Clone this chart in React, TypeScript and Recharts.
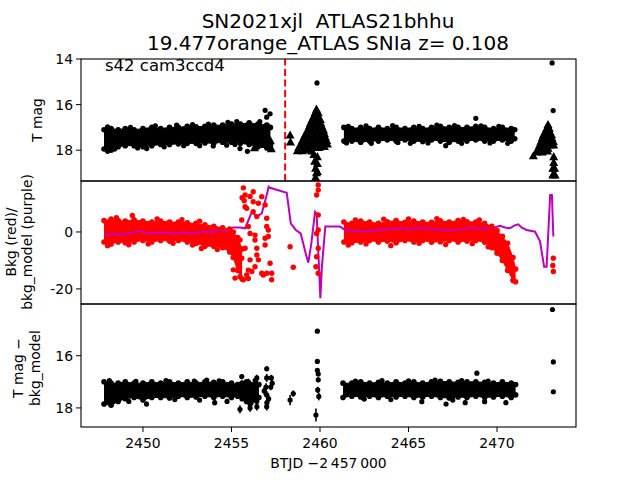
import React from 'react';
import { ComposedChart, Area, Scatter, Line, XAxis, YAxis, ReferenceLine, ErrorBar } from 'recharts';

const FONT = 'DejaVu Sans';
const xDomain = [2446.5, 2474.46];
const xTicks = [2450, 2455, 2460, 2465, 2470];
const explosionT = 2458.03;

// ---- panel 1: T mag ----
const tmagBandA = [
  { t: 2447.8, lo: 17.1, hi: 17.95 },
  { t: 2448.2, lo: 17.05, hi: 18.0 },
  { t: 2448.6, lo: 17.1, hi: 17.85 },
  { t: 2449.0, lo: 17.05, hi: 17.8 },
  { t: 2449.5, lo: 17.1, hi: 17.8 },
  { t: 2450.0, lo: 17.05, hi: 17.85 },
  { t: 2450.5, lo: 17.0, hi: 17.8 },
  { t: 2451.0, lo: 17.05, hi: 17.75 },
  { t: 2451.5, lo: 17.0, hi: 17.75 },
  { t: 2452.0, lo: 17.0, hi: 17.72 },
  { t: 2452.5, lo: 16.95, hi: 17.7 },
  { t: 2453.0, lo: 16.97, hi: 17.7 },
  { t: 2453.5, lo: 16.95, hi: 17.68 },
  { t: 2454.0, lo: 16.9, hi: 17.7 },
  { t: 2454.5, lo: 16.9, hi: 17.65 },
  { t: 2455.0, lo: 16.85, hi: 17.65 },
  { t: 2455.5, lo: 16.85, hi: 17.7 },
  { t: 2456.0, lo: 16.8, hi: 17.75 },
  { t: 2456.5, lo: 16.85, hi: 17.85 },
  { t: 2457.0, lo: 16.9, hi: 17.9 },
  { t: 2457.2, lo: 17.0, hi: 17.8 },
];
const tmagBandB = [
  { t: 2461.35, lo: 17.0, hi: 17.6 },
  { t: 2461.8, lo: 17.05, hi: 17.6 },
  { t: 2462.3, lo: 17.0, hi: 17.65 },
  { t: 2462.8, lo: 17.05, hi: 17.6 },
  { t: 2463.3, lo: 17.0, hi: 17.6 },
  { t: 2463.8, lo: 17.05, hi: 17.55 },
  { t: 2464.3, lo: 17.0, hi: 17.6 },
  { t: 2464.8, lo: 17.05, hi: 17.55 },
  { t: 2465.3, lo: 17.0, hi: 17.6 },
  { t: 2465.8, lo: 17.05, hi: 17.62 },
  { t: 2466.3, lo: 17.0, hi: 17.55 },
  { t: 2466.8, lo: 16.95, hi: 17.6 },
  { t: 2467.3, lo: 17.0, hi: 17.65 },
  { t: 2467.8, lo: 17.0, hi: 17.6 },
  { t: 2468.3, lo: 17.0, hi: 17.6 },
  { t: 2468.8, lo: 16.95, hi: 17.55 },
  { t: 2469.3, lo: 17.0, hi: 17.6 },
  { t: 2469.8, lo: 17.05, hi: 17.6 },
  { t: 2470.3, lo: 17.0, hi: 17.55 },
  { t: 2470.8, lo: 17.05, hi: 17.6 },
  { t: 2471.0, lo: 17.1, hi: 17.5 },
];
const tmagDots = [
  { t: 2450.21, v: 17.93 }, { t: 2453.97, v: 17.81 }, { t: 2454.73, v: 17.78 },
  { t: 2455.48, v: 17.93 }, { t: 2455.9, v: 18.05 }, { t: 2456.9, v: 16.25 },
  { t: 2457.18, v: 16.4 }, { t: 2456.99, v: 16.55 }, { t: 2456.6, v: 16.75 },
  { t: 2468.8, v: 16.6 }, { t: 2467.1, v: 17.8 }, { t: 2459.83, v: 15.05 },
  { t: 2473.11, v: 14.17 }, { t: 2473.17, v: 16.26 },
  // bumps along the band edges
  { t: 2448.0, v: 16.98 }, { t: 2449.3, v: 17.0 }, { t: 2450.7, v: 16.93 }, { t: 2451.9, v: 16.9 },
  { t: 2452.8, v: 16.88 }, { t: 2453.7, v: 16.85 }, { t: 2454.8, v: 16.78 }, { t: 2455.3, v: 16.75 },
  { t: 2448.0, v: 18.05 }, { t: 2448.4, v: 17.95 }, { t: 2449.7, v: 17.9 }, { t: 2451.2, v: 17.85 },
  { t: 2452.3, v: 17.8 }, { t: 2453.2, v: 17.8 }, { t: 2455.2, v: 17.75 },
  { t: 2461.6, v: 16.95 }, { t: 2462.6, v: 16.93 }, { t: 2464.1, v: 16.92 }, { t: 2465.6, v: 16.95 },
  { t: 2466.6, v: 16.9 }, { t: 2467.6, v: 16.92 }, { t: 2469.1, v: 16.93 }, { t: 2470.1, v: 16.95 },
  { t: 2461.5, v: 17.68 }, { t: 2462.9, v: 17.7 }, { t: 2464.4, v: 17.66 }, { t: 2465.1, v: 17.7 },
  { t: 2466.1, v: 17.68 }, { t: 2468.0, v: 17.7 }, { t: 2469.6, v: 17.68 }, { t: 2470.6, v: 17.7 },
];
const tmagFlagged = [
  { t: 2456.3, v: 17.9 }, { t: 2456.45, v: 17.5 }, { t: 2456.6, v: 17.2 }, { t: 2456.75, v: 17.6 },
  { t: 2456.9, v: 17.0 }, { t: 2457.0, v: 17.4 }, { t: 2457.1, v: 17.8 }, { t: 2457.25, v: 17.95 },
  { t: 2456.55, v: 17.75 }, { t: 2457.2, v: 17.6 },
  { t: 2458.31, v: 17.35 }, { t: 2458.33, v: 17.65 },
  { t: 2459.8, v: 16.22 },
  { t: 2459.72, v: 16.37 }, { t: 2459.9, v: 16.37 },
  { t: 2459.65, v: 16.52 }, { t: 2459.9, v: 16.52 },
  { t: 2459.55, v: 16.67 }, { t: 2459.8, v: 16.67 }, { t: 2460.02, v: 16.67 },
  { t: 2459.45, v: 16.83 }, { t: 2459.75, v: 16.83 }, { t: 2460.05, v: 16.83 },
  { t: 2459.38, v: 16.98 }, { t: 2459.62, v: 16.98 }, { t: 2459.88, v: 16.98 }, { t: 2460.12, v: 16.98 },
  { t: 2459.3, v: 17.13 }, { t: 2459.6, v: 17.13 }, { t: 2459.9, v: 17.13 }, { t: 2460.2, v: 17.13 },
  { t: 2459.2, v: 17.28 }, { t: 2459.45, v: 17.28 }, { t: 2459.72, v: 17.28 }, { t: 2460.0, v: 17.28 }, { t: 2460.25, v: 17.28 },
  { t: 2459.1, v: 17.43 }, { t: 2459.4, v: 17.43 }, { t: 2459.7, v: 17.43 }, { t: 2460.0, v: 17.43 }, { t: 2460.3, v: 17.43 },
  { t: 2459.0, v: 17.59 }, { t: 2459.28, v: 17.59 }, { t: 2459.56, v: 17.59 }, { t: 2459.85, v: 17.59 }, { t: 2460.12, v: 17.59 }, { t: 2460.38, v: 17.59 },
  { t: 2458.92, v: 17.74 }, { t: 2459.2, v: 17.74 }, { t: 2459.5, v: 17.74 }, { t: 2459.8, v: 17.74 }, { t: 2460.1, v: 17.74 }, { t: 2460.42, v: 17.74 },
  { t: 2458.8, v: 17.89 }, { t: 2459.05, v: 17.89 }, { t: 2459.35, v: 17.89 }, { t: 2459.65, v: 17.89 }, { t: 2459.95, v: 17.89 }, { t: 2460.25, v: 17.85 },
  { t: 2458.72, v: 18.04 }, { t: 2459.0, v: 18.04 }, { t: 2459.3, v: 18.0 }, { t: 2459.55, v: 18.05 },
  { t: 2459.65, v: 18.2 }, { t: 2459.85, v: 18.3 }, { t: 2459.7, v: 18.5 }, { t: 2459.85, v: 18.6 },
  { t: 2459.75, v: 18.8 }, { t: 2459.8, v: 19.0 }, { t: 2459.75, v: 19.2 }, { t: 2459.85, v: 18.95 },
  { t: 2472.88, v: 16.89 }, { t: 2472.8, v: 17.05 }, { t: 2472.95, v: 17.05 },
  { t: 2472.72, v: 17.2 }, { t: 2472.98, v: 17.2 }, { t: 2472.62, v: 17.34 }, { t: 2472.9, v: 17.34 }, { t: 2473.08, v: 17.34 },
  { t: 2472.55, v: 17.48 }, { t: 2472.85, v: 17.48 }, { t: 2473.1, v: 17.48 },
  { t: 2472.48, v: 17.63 }, { t: 2472.75, v: 17.63 }, { t: 2473.0, v: 17.63 }, { t: 2473.18, v: 17.63 },
  { t: 2472.4, v: 17.78 }, { t: 2472.7, v: 17.78 }, { t: 2473.0, v: 17.78 }, { t: 2473.2, v: 17.78 },
  { t: 2472.32, v: 17.93 }, { t: 2472.6, v: 17.93 }, { t: 2472.88, v: 17.93 },
  { t: 2472.25, v: 18.09 }, { t: 2472.55, v: 18.09 }, { t: 2472.85, v: 18.05 }, { t: 2472.05, v: 18.26 },
  { t: 2473.2, v: 18.3 }, { t: 2473.2, v: 18.55 }, { t: 2473.15, v: 18.8 }, { t: 2473.25, v: 18.8 },
  { t: 2473.2, v: 19.05 }, { t: 2473.15, v: 19.1 }, { t: 2473.28, v: 19.1 },
];

// ---- panel 2: background ----
const bkgBandA = [
  { t: 2447.8, lo: -3.5, hi: 4.0 },
  { t: 2448.2, lo: -4.2, hi: 4.5 },
  { t: 2448.6, lo: -3.5, hi: 4.0 },
  { t: 2449.0, lo: -3.8, hi: 3.8 },
  { t: 2449.5, lo: -3.5, hi: 4.3 },
  { t: 2450.0, lo: -3.0, hi: 3.8 },
  { t: 2450.5, lo: -3.5, hi: 3.5 },
  { t: 2451.0, lo: -3.0, hi: 3.8 },
  { t: 2451.5, lo: -3.2, hi: 3.5 },
  { t: 2452.0, lo: -3.0, hi: 3.5 },
  { t: 2452.5, lo: -3.5, hi: 3.2 },
  { t: 2453.0, lo: -4.0, hi: 3.0 },
  { t: 2453.5, lo: -5.0, hi: 2.5 },
  { t: 2454.0, lo: -5.0, hi: 2.0 },
  { t: 2454.5, lo: -5.5, hi: 1.5 },
  { t: 2454.9, lo: -7.0, hi: 1.0 },
  { t: 2455.1, lo: -9.0, hi: 0.0 },
  { t: 2455.35, lo: -13.5, hi: -2.0 },
  { t: 2455.6, lo: -16.5, hi: -6.0 },
];
const bkgBandB = [
  { t: 2461.35, lo: -3.5, hi: 3.5 },
  { t: 2461.8, lo: -3.8, hi: 3.0 },
  { t: 2462.3, lo: -3.5, hi: 3.8 },
  { t: 2462.8, lo: -3.0, hi: 3.5 },
  { t: 2463.3, lo: -3.5, hi: 3.0 },
  { t: 2463.8, lo: -3.2, hi: 3.6 },
  { t: 2464.3, lo: -3.8, hi: 4.0 },
  { t: 2464.8, lo: -3.0, hi: 3.4 },
  { t: 2465.3, lo: -3.5, hi: 3.8 },
  { t: 2465.8, lo: -3.0, hi: 3.5 },
  { t: 2466.3, lo: -3.6, hi: 3.4 },
  { t: 2466.8, lo: -3.4, hi: 3.9 },
  { t: 2467.3, lo: -3.0, hi: 3.5 },
  { t: 2467.8, lo: -3.5, hi: 4.0 },
  { t: 2468.3, lo: -3.2, hi: 3.6 },
  { t: 2468.8, lo: -3.0, hi: 3.5 },
  { t: 2469.3, lo: -3.6, hi: 3.0 },
  { t: 2469.7, lo: -5.5, hi: 2.0 },
  { t: 2470.0, lo: -7.5, hi: 0.5 },
  { t: 2470.3, lo: -10.0, hi: -1.5 },
  { t: 2470.6, lo: -13.5, hi: -4.0 },
  { t: 2470.9, lo: -17.0, hi: -9.0 },
  { t: 2471.05, lo: -17.5, hi: -13.0 },
];
const bkgDots = [
  { t: 2449.4, v: 5.8 },
  { t: 2448.0, v: -4.8 }, { t: 2449.2, v: -4.5 }, { t: 2450.3, v: -4.2 }, { t: 2451.7, v: -4.0 },
  { t: 2452.8, v: -4.6 }, { t: 2453.3, v: -5.8 }, { t: 2454.2, v: -6.2 },
  { t: 2448.5, v: 5.0 }, { t: 2450.8, v: 4.6 }, { t: 2452.2, v: 4.3 }, { t: 2453.2, v: 3.8 },
  { t: 2462.0, v: 4.2 }, { t: 2463.6, v: 4.5 }, { t: 2465.0, v: 4.6 }, { t: 2466.6, v: 4.7 },
  { t: 2468.1, v: 4.4 }, { t: 2469.0, v: 4.2 },
  { t: 2461.6, v: -4.6 }, { t: 2462.6, v: -4.2 }, { t: 2464.0, v: -4.8 }, { t: 2465.6, v: -4.0 },
  { t: 2467.1, v: -4.4 }, { t: 2468.6, v: -4.1 }, { t: 2469.5, v: -5.2 },
  { t: 2455.67, v: 15.5 }, { t: 2455.77, v: 13.0 }, { t: 2455.6, v: 12.0 }, { t: 2456.23, v: 14.1 },
  { t: 2456.71, v: 12.4 }, { t: 2456.23, v: 10.6 }, { t: 2456.52, v: 10.1 }, { t: 2456.9, v: 9.5 },
  { t: 2455.77, v: 8.9 }, { t: 2455.86, v: 8.3 }, { t: 2455.72, v: 11.0 }, { t: 2456.05, v: 12.5 },
  { t: 2456.23, v: 7.1 }, { t: 2456.43, v: 5.4 }, { t: 2455.58, v: 4.2 }, { t: 2455.95, v: 1.9 },
  { t: 2456.05, v: -0.5 }, { t: 2456.99, v: 1.9 }, { t: 2457.08, v: 0.7 }, { t: 2456.99, v: 4.8 },
  { t: 2456.9, v: -2.2 }, { t: 2456.9, v: -4.6 }, { t: 2456.33, v: -2.8 }, { t: 2456.33, v: -1.1 },
  { t: 2456.43, v: -5.7 }, { t: 2456.43, v: -8.1 }, { t: 2455.77, v: -5.7 }, { t: 2456.52, v: -9.8 },
  { t: 2456.33, v: -12.2 }, { t: 2456.15, v: -13.9 }, { t: 2457.18, v: -11.0 }, { t: 2457.08, v: -1.6 },
  { t: 2456.99, v: -14.5 }, { t: 2457.27, v: -14.5 }, { t: 2457.27, v: -16.8 }, { t: 2456.8, v: -15.1 },
  { t: 2456.71, v: -14.5 }, { t: 2455.48, v: -2.8 }, { t: 2455.58, v: -9.2 }, { t: 2455.39, v: -12.2 },
  { t: 2455.48, v: -15.7 }, { t: 2455.67, v: -16.8 }, { t: 2455.86, v: -15.1 }, { t: 2455.95, v: -16.3 },
  { t: 2456.05, v: -9.8 }, { t: 2455.95, v: -13.4 }, { t: 2455.2, v: -16.2 }, { t: 2455.1, v: -13.3 },
  { t: 2458.31, v: -5.2 }, { t: 2458.49, v: -12.4 },
  { t: 2459.81, v: 13.0 }, { t: 2459.9, v: 14.7 }, { t: 2459.9, v: 16.5 }, { t: 2459.9, v: 6.0 },
  { t: 2459.9, v: 0.7 }, { t: 2459.81, v: -0.5 }, { t: 2459.9, v: -5.7 }, { t: 2459.81, v: -8.7 },
  { t: 2459.77, v: -12.2 }, { t: 2459.9, v: -14.5 },
  { t: 2473.18, v: -9.2 }, { t: 2473.15, v: -11.8 }, { t: 2473.18, v: -13.9 },
];
const bkgModel = [
  { t: 2447.8, v: -1.0 }, { t: 2448.3, v: -0.7 }, { t: 2448.8, v: -1.0 }, { t: 2449.3, v: -0.4 },
  { t: 2449.8, v: 0.3 }, { t: 2450.3, v: -0.6 }, { t: 2450.8, v: -0.3 }, { t: 2451.3, v: -0.2 },
  { t: 2451.8, v: -0.7 }, { t: 2452.3, v: -0.2 }, { t: 2452.8, v: -0.5 }, { t: 2453.3, v: 0.2 },
  { t: 2453.8, v: -0.1 }, { t: 2454.35, v: 0.7 }, { t: 2454.7, v: 0.4 }, { t: 2455.1, v: 1.6 },
  { t: 2455.48, v: 1.6 }, { t: 2455.77, v: 1.3 }, { t: 2456.15, v: 7.1 }, { t: 2456.43, v: 5.4 },
  { t: 2456.71, v: 6.5 }, { t: 2456.99, v: 13.0 }, { t: 2457.1, v: 15.9 }, { t: 2457.18, v: 15.5 },
  { t: 2458.12, v: 13.8 }, { t: 2458.35, v: 3.0 }, { t: 2458.63, v: 0.7 }, { t: 2458.91, v: -0.5 },
  { t: 2459.19, v: -7.5 }, { t: 2459.34, v: -10.8 }, { t: 2459.51, v: -4.0 }, { t: 2459.72, v: 7.1 },
  { t: 2459.81, v: 6.5 }, { t: 2459.9, v: -6.3 }, { t: 2460.02, v: -23.3 }, { t: 2460.11, v: -12.0 },
  { t: 2460.3, v: 1.9 }, { t: 2461.13, v: 1.9 }, { t: 2461.42, v: 0.7 }, { t: 2462.0, v: 0.3 },
  { t: 2462.45, v: 0.1 }, { t: 2463.0, v: 0.5 }, { t: 2463.4, v: 0.7 }, { t: 2464.0, v: 1.0 },
  { t: 2464.7, v: 1.3 }, { t: 2465.1, v: 0.9 }, { t: 2465.6, v: 1.6 }, { t: 2466.1, v: 1.1 },
  { t: 2466.6, v: 1.0 }, { t: 2467.1, v: 0.6 }, { t: 2467.6, v: 0.7 }, { t: 2468.0, v: 1.0 },
  { t: 2468.5, v: 1.5 }, { t: 2469.0, v: 1.1 }, { t: 2469.45, v: 1.3 }, { t: 2469.8, v: 1.5 },
  { t: 2470.17, v: 2.2 }, { t: 2470.45, v: 1.6 }, { t: 2470.73, v: 1.3 }, { t: 2471.0, v: 2.3 },
  { t: 2471.2, v: 2.7 }, { t: 2471.4, v: 1.5 }, { t: 2471.67, v: 0.7 }, { t: 2472.15, v: 0.1 },
  { t: 2472.43, v: -3.4 }, { t: 2472.66, v: -12.2 }, { t: 2472.8, v: -12.2 }, { t: 2473.0, v: 13.0 },
  { t: 2473.1, v: 13.0 }, { t: 2473.18, v: -1.6 },
];

// ---- panel 3: T mag - bkg_model ----
const diffBandA = [
  { t: 2447.8, lo: 17.0, hi: 17.85 },
  { t: 2448.2, lo: 17.05, hi: 17.9 },
  { t: 2448.6, lo: 17.05, hi: 17.75 },
  { t: 2449.0, lo: 17.0, hi: 17.65 },
  { t: 2449.5, lo: 17.05, hi: 17.6 },
  { t: 2450.0, lo: 17.05, hi: 17.7 },
  { t: 2450.5, lo: 17.0, hi: 17.6 },
  { t: 2451.0, lo: 17.05, hi: 17.6 },
  { t: 2451.5, lo: 17.0, hi: 17.62 },
  { t: 2452.0, lo: 17.05, hi: 17.55 },
  { t: 2452.5, lo: 17.0, hi: 17.6 },
  { t: 2453.0, lo: 17.05, hi: 17.58 },
  { t: 2453.5, lo: 17.0, hi: 17.55 },
  { t: 2454.0, lo: 17.02, hi: 17.6 },
  { t: 2454.5, lo: 17.0, hi: 17.55 },
  { t: 2455.0, lo: 17.05, hi: 17.6 },
  { t: 2455.35, lo: 17.1, hi: 17.55 },
  { t: 2455.6, lo: 17.05, hi: 17.65 },
  { t: 2455.85, lo: 17.0, hi: 17.75 },
  { t: 2456.1, lo: 17.1, hi: 17.8 },
  { t: 2456.35, lo: 16.95, hi: 17.7 },
  { t: 2456.55, lo: 17.1, hi: 17.6 },
];
const diffBandB = [
  { t: 2461.3, lo: 17.05, hi: 17.6 },
  { t: 2461.8, lo: 17.05, hi: 17.55 },
  { t: 2462.3, lo: 17.0, hi: 17.58 },
  { t: 2462.8, lo: 17.05, hi: 17.55 },
  { t: 2463.3, lo: 17.02, hi: 17.6 },
  { t: 2463.8, lo: 17.05, hi: 17.55 },
  { t: 2464.3, lo: 17.0, hi: 17.58 },
  { t: 2464.8, lo: 17.05, hi: 17.55 },
  { t: 2465.3, lo: 17.0, hi: 17.6 },
  { t: 2465.8, lo: 17.05, hi: 17.58 },
  { t: 2466.3, lo: 17.0, hi: 17.55 },
  { t: 2466.8, lo: 16.98, hi: 17.6 },
  { t: 2467.3, lo: 17.0, hi: 17.62 },
  { t: 2467.8, lo: 17.02, hi: 17.58 },
  { t: 2468.3, lo: 17.0, hi: 17.6 },
  { t: 2468.8, lo: 17.0, hi: 17.55 },
  { t: 2469.3, lo: 17.02, hi: 17.6 },
  { t: 2469.8, lo: 17.05, hi: 17.58 },
  { t: 2470.3, lo: 17.0, hi: 17.55 },
  { t: 2470.8, lo: 17.05, hi: 17.6 },
  { t: 2471.05, lo: 17.1, hi: 17.5 },
];
const diffDots = [
  { t: 2450.2, v: 17.85, e: 0.1 }, { t: 2454.05, v: 17.8, e: 0.1 }, { t: 2454.75, v: 17.75, e: 0.1 },
  { t: 2448.1, v: 16.95, e: 0.05 }, { t: 2449.6, v: 16.98, e: 0.05 }, { t: 2451.3, v: 16.95, e: 0.05 },
  { t: 2452.9, v: 16.97, e: 0.05 }, { t: 2453.6, v: 16.93, e: 0.05 }, { t: 2454.3, v: 16.96, e: 0.05 },
  { t: 2449.2, v: 17.75, e: 0.05 }, { t: 2451.8, v: 17.68, e: 0.05 }, { t: 2453.2, v: 17.7, e: 0.05 },
  { t: 2462.0, v: 16.97, e: 0.05 }, { t: 2463.5, v: 16.95, e: 0.05 }, { t: 2465.0, v: 16.96, e: 0.05 },
  { t: 2466.5, v: 16.93, e: 0.05 }, { t: 2468.0, v: 16.95, e: 0.05 }, { t: 2469.5, v: 16.97, e: 0.05 },
  { t: 2462.5, v: 17.66, e: 0.05 }, { t: 2464.0, v: 17.68, e: 0.05 }, { t: 2467.5, v: 17.7, e: 0.05 },
  { t: 2455.48, v: 18.05, e: 0.15 }, { t: 2455.58, v: 16.8, e: 0.1 },
  { t: 2455.95, v: 17.0, e: 0.12 }, { t: 2456.05, v: 17.3, e: 0.15 }, { t: 2456.0, v: 17.6, e: 0.15 },
  { t: 2456.05, v: 17.85, e: 0.15 }, { t: 2456.05, v: 18.0, e: 0.15 },
  { t: 2456.43, v: 16.85, e: 0.12 }, { t: 2456.43, v: 17.15, e: 0.15 }, { t: 2456.38, v: 17.45, e: 0.15 },
  { t: 2456.43, v: 17.75, e: 0.15 }, { t: 2456.43, v: 17.95, e: 0.15 },
  { t: 2456.99, v: 16.5, e: 0.1 }, { t: 2456.99, v: 16.85, e: 0.15 }, { t: 2456.95, v: 17.2, e: 0.15 },
  { t: 2456.99, v: 17.5, e: 0.15 }, { t: 2457.0, v: 17.8, e: 0.15 }, { t: 2456.99, v: 17.95, e: 0.15 },
  { t: 2456.85, v: 17.35, e: 0.15 }, { t: 2457.1, v: 17.65, e: 0.15 },
  { t: 2457.25, v: 16.85, e: 0.12 }, { t: 2457.3, v: 17.05, e: 0.12 }, { t: 2457.22, v: 17.2, e: 0.12 },
  { t: 2458.31, v: 17.7, e: 0.2 }, { t: 2458.49, v: 17.45, e: 0.12 },
  { t: 2459.85, v: 15.06, e: 0.05 }, { t: 2459.85, v: 16.22, e: 0.08 }, { t: 2459.85, v: 16.56, e: 0.08 },
  { t: 2459.9, v: 16.7, e: 0.08 }, { t: 2459.9, v: 16.92, e: 0.1 }, { t: 2459.87, v: 17.31, e: 0.12 },
  { t: 2459.93, v: 17.56, e: 0.15 }, { t: 2459.77, v: 18.27, e: 0.25 },
  { t: 2468.86, v: 16.67, e: 0.05 }, { t: 2465.75, v: 17.76, e: 0.08 }, { t: 2467.12, v: 17.85, e: 0.08 },
  { t: 2468.2, v: 17.8, e: 0.08 }, { t: 2469.3, v: 17.76, e: 0.08 }, { t: 2470.5, v: 17.8, e: 0.08 },
  { t: 2473.13, v: 14.23, e: 0.05 }, { t: 2473.18, v: 16.24, e: 0.05 }, { t: 2473.18, v: 17.38, e: 0.05 },
];

const bandRows = (a: any[], b: any[]) => [
  ...a.map((p) => ({ t: p.t, a: [p.lo, p.hi] })),
  ...b.map((p) => ({ t: p.t, b: [p.lo, p.hi] })),
];
const edgeDots = (band: any[]) => band.flatMap((p) => [{ t: p.t, v: p.lo }, { t: p.t, v: p.hi }]);

const dot = (r: number, color: string) => (props: any) =>
  props.cx == null ? <g /> : <circle cx={props.cx} cy={props.cy} r={r} fill={color} />;
const tri = (props: any) => {
  const { cx, cy } = props;
  if (cx == null) return <g />;
  return <polygon points={`${cx},${cy - 5} ${cx - 4.5},${cy + 3.2} ${cx + 4.5},${cy + 3.2}`} fill="#000" />;
};

const tickStyle = { fill: '#000', fontSize: 13.9, fontFamily: FONT };
const yAxisProps = {
  type: 'number' as const,
  dataKey: 'v',
  width: 60,
  allowDataOverflow: true,
  axisLine: false,
  tickLine: { stroke: '#000' },
  tickSize: 5,
  tickMargin: 3,
  tick: tickStyle,
};
const hiddenX = (
  <XAxis type="number" dataKey="t" domain={xDomain} allowDataOverflow hide />
);

const PanelMag = () => (
  <ComposedChart width={640} height={181} data={bandRows(tmagBandA, tmagBandB)}
    margin={{ top: 59, right: 64, bottom: 0, left: 21 }}>
    {hiddenX}
    <YAxis {...yAxisProps} reversed domain={[14, 19.35]} ticks={[14, 16, 18]} />
    <Area dataKey="a" type="linear" fill="#000" fillOpacity={1} stroke="#000" isAnimationActive={false} dot={false} activeDot={false} />
    <Area dataKey="b" type="linear" fill="#000" fillOpacity={1} stroke="#000" isAnimationActive={false} dot={false} activeDot={false} />
    <Scatter data={[...edgeDots(tmagBandA), ...edgeDots(tmagBandB)]} dataKey="v" shape={dot(2.8, '#000')} isAnimationActive={false} />
    <Scatter data={tmagDots} dataKey="v" shape={dot(2.6, '#000')} isAnimationActive={false} />
    <Scatter data={tmagFlagged} dataKey="v" shape={tri} isAnimationActive={false} />
    <ReferenceLine x={explosionT} stroke="#ff0000" strokeWidth={2} strokeDasharray="7 3.5" />
  </ComposedChart>
);

const PanelBkg = () => (
  <ComposedChart width={640} height={123} data={bandRows(bkgBandA, bkgBandB)}
    margin={{ top: 0, right: 64, bottom: 0, left: 21 }}>
    {hiddenX}
    <YAxis {...yAxisProps} domain={[-25.3, 17.9]} ticks={[-20, 0]} />
    <Area dataKey="a" type="linear" fill="#ff0000" fillOpacity={1} stroke="#ff0000" isAnimationActive={false} dot={false} activeDot={false} />
    <Area dataKey="b" type="linear" fill="#ff0000" fillOpacity={1} stroke="#ff0000" isAnimationActive={false} dot={false} activeDot={false} />
    <Scatter data={[...edgeDots(bkgBandA), ...edgeDots(bkgBandB)]} dataKey="v" shape={dot(2.8, '#ff0000')} isAnimationActive={false} />
    <Scatter data={bkgDots} dataKey="v" shape={dot(2.7, '#ff0000')} isAnimationActive={false} />
    <Line data={bkgModel} dataKey="v" type="linear" stroke="#bf00bf" strokeWidth={2} dot={false} activeDot={false} isAnimationActive={false} />
  </ComposedChart>
);

const PanelDiff = () => (
  <ComposedChart width={640} height={176} data={bandRows(diffBandA, diffBandB)}
    margin={{ top: 0, right: 64, bottom: 23, left: 21 }}>
    <XAxis type="number" dataKey="t" domain={xDomain} allowDataOverflow ticks={xTicks} height={30}
      axisLine={false} tickLine={{ stroke: '#000' }} tickSize={5} tickMargin={6} tick={tickStyle} />
    <YAxis {...yAxisProps} reversed domain={[14.02, 18.73]} ticks={[16, 18]} />
    <Area dataKey="a" type="linear" fill="#000" fillOpacity={1} stroke="#000" isAnimationActive={false} dot={false} activeDot={false} />
    <Area dataKey="b" type="linear" fill="#000" fillOpacity={1} stroke="#000" isAnimationActive={false} dot={false} activeDot={false} />
    <Scatter data={[...edgeDots(diffBandA), ...edgeDots(diffBandB)]} dataKey="v" shape={dot(2.8, '#000')} isAnimationActive={false} />
    <Scatter data={diffDots} dataKey="v" shape={dot(2.6, '#000')} isAnimationActive={false}>
      <ErrorBar dataKey="e" direction="y" width={0} stroke="#000" strokeWidth={1.6} isAnimationActive={false} />
    </Scatter>
  </ComposedChart>
);

const Overlay = () => (
  <svg width={640} height={480} fontFamily={FONT}
    style={{ position: 'absolute', left: 0, top: 0, pointerEvents: 'none' }}>
    <text x={328} y={27.6} fontSize={20} textAnchor="middle" style={{ whiteSpace: 'pre' }}>SN2021xjl  ATLAS21bhhu</text>
    <text x={328} y={49.6} fontSize={20} textAnchor="middle">19.477orange_ATLAS SNIa z= 0.108</text>
    <text x={105} y={70.7} fontSize={16.5}>s42 cam3ccd4</text>
    <rect x={81} y={59} width={495} height={122} fill="none" stroke="#000" strokeWidth={1.1} />
    <rect x={81} y={181} width={495} height={123} fill="none" stroke="#000" strokeWidth={1.1} />
    <rect x={81} y={304} width={495} height={123} fill="none" stroke="#000" strokeWidth={1.1} />
    <text transform="rotate(-90 42 120)" x={42} y={120} fontSize={13.9} textAnchor="middle">T mag</text>
    <text transform="rotate(-90 16 242)" x={16} y={242} fontSize={13.9} textAnchor="middle">Bkg (red)/</text>
    <text transform="rotate(-90 32 242)" x={32} y={242} fontSize={13.9} textAnchor="middle">bkg_model (purple)</text>
    <text transform="rotate(-90 23 368)" x={23} y={368} fontSize={13.9} textAnchor="middle">T mag −</text>
    <text transform="rotate(-90 40 368)" x={40} y={368} fontSize={13.9} textAnchor="middle">bkg_model</text>
    <text x={328.5} y={468} fontSize={13.9} textAnchor="middle">BTJD {'\u2212'}2{'\u2009'}457{'\u2009'}000</text>
  </svg>
);

export default function App() {
  return (
    <div style={{ position: 'absolute', left: 0, top: 0, width: 640, height: 480, background: '#fff', fontFamily: FONT }}>
      <div style={{ position: 'absolute', left: 0, top: 0 }}><PanelMag /></div>
      <div style={{ position: 'absolute', left: 0, top: 181 }}><PanelBkg /></div>
      <div style={{ position: 'absolute', left: 0, top: 304 }}><PanelDiff /></div>
      <Overlay />
    </div>
  );
}
